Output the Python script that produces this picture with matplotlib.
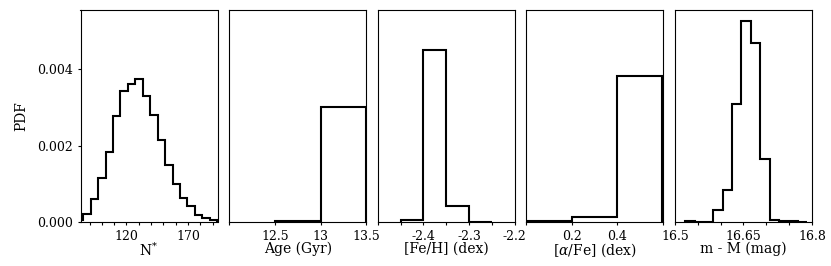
import matplotlib
matplotlib.use("Agg")
import matplotlib.pyplot as plt
import numpy as np

plt.rcParams['font.family'] = ['DejaVu Serif']
plt.rcParams['mathtext.fontset'] = 'dejavuserif'

# N* histogram (panel 1)
nstar_edges = [78.9, 84.9, 90.9, 97.0, 103.0, 109.1, 115.1, 121.1, 127.2, 133.2,
               139.2, 145.3, 151.3, 157.4, 163.4, 169.4, 175.5, 181.5, 187.5, 193.6]
nstar_pdf = [0.00004, 0.00022, 0.0006, 0.00114, 0.00182, 0.00278, 0.00343, 0.00361,
             0.00375, 0.00331, 0.0028, 0.00215, 0.00149, 0.001, 0.00064, 0.00041,
             0.00019, 0.0001, 0.00005]

# Age histogram
age_edges = [12.5, 13.0, 13.5]
age_pdf = [0.005, 0.542]

# [Fe/H] histogram
feh_edges = [-2.45, -2.40, -2.35, -2.30, -2.25]
feh_pdf = [0.009, 0.81, 0.075, 0.002]

# [alpha/Fe] histogram
afe_edges = [0.0, 0.2, 0.4, 0.597]
afe_pdf = [0.003, 0.025, 0.69]

# distance modulus histogram
dm_edges = [16.5225 + 0.0205 * k for k in range(14)]
dm_pdf = [0.003, 0.0, 0.0, 0.058, 0.149, 0.556, 0.95, 0.843, 0.299, 0.011,
          0.006, 0.003, 0.0015]

panels = [
    (nstar_edges, nstar_pdf, (82.7, 193.8), (0, 0.00555), np.arange(90, 191, 10), [120, 170], ['120', '170'], r'N$^{*}$'),
    (age_edges, age_pdf, (12.0, 13.5), (0, 1), [12.0, 12.5, 13.0, 13.5], [12.5, 13.0, 13.5], ['12.5', '13', '13.5'], 'Age (Gyr)'),
    (feh_edges, feh_pdf, (-2.5, -2.2), (0, 1), np.arange(-2.5, -2.19, 0.05), [-2.4, -2.3, -2.2], ['-2.4', '-2.3', '-2.2'], '[Fe/H] (dex)'),
    (afe_edges, afe_pdf, (0.0, 0.601), (0, 1), [0.0, 0.2, 0.4, 0.6], [0.2, 0.4], ['0.2', '0.4'], r'[$\alpha$/Fe] (dex)'),
    (dm_edges, dm_pdf, (16.5, 16.8), (0, 1), np.arange(16.5, 16.81, 0.05), [16.5, 16.65, 16.8], ['16.5', '16.65', '16.8'], 'm - M (mag)'),
]

fig = plt.figure(figsize=(8.31, 2.66), dpi=100)
lefts = [80.5, 229.3, 377.8, 526.3, 675.0]
for i, (edges, vals, xlim, ylim, minor, major, labels, xlabel) in enumerate(panels):
    ax = fig.add_axes([lefts[i] / 831, 44 / 266, 137 / 831, 212 / 266])
    ax.stairs(vals, edges, color='black', linewidth=1.5)
    ax.set_xlim(*xlim)
    ax.set_ylim(*ylim)
    ax.set_xticks(minor, minor=True)
    ax.set_xticks(major)
    ax.set_xticklabels(labels)
    ax.tick_params(which='both', direction='out', length=2.5, width=0.8, labelsize=9, pad=3)
    ax.tick_params(which='minor', labelbottom=False)
    ax.set_xlabel(xlabel, fontsize=10, labelpad=-1)
    for s in ax.spines.values():
        s.set_linewidth(0.8)
    if i == 0:
        ax.set_yticks([0.0, 0.002, 0.004])
        ax.set_yticklabels(['0.000', '0.002', '0.004'])
        ax.set_ylabel('PDF', fontsize=10)
        ax.yaxis.set_label_coords(-0.38, 0.5)
    else:
        ax.set_yticks([])

fig.savefig('out.png', dpi=100)
